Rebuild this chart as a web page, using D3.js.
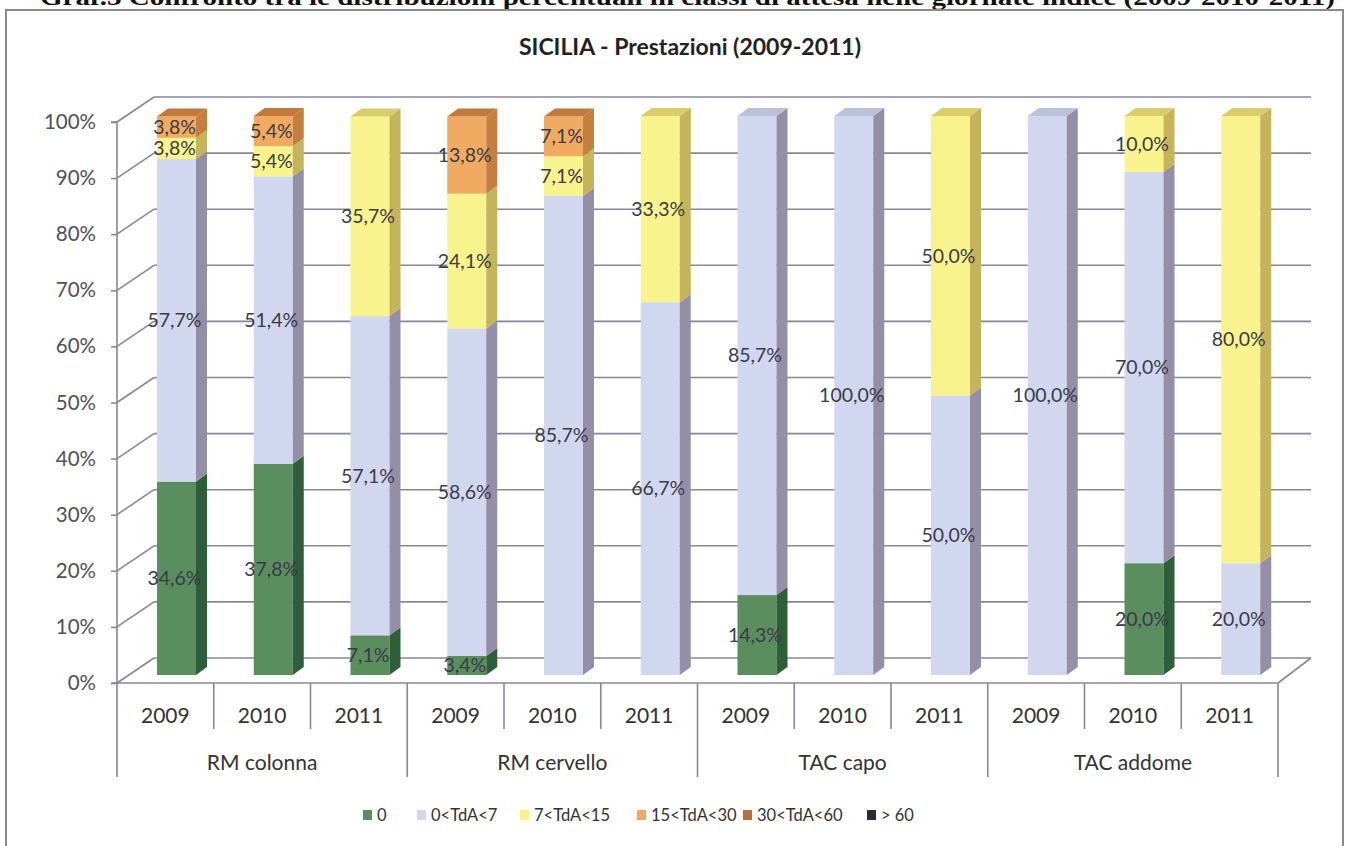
<!DOCTYPE html>
<html><head><meta charset="utf-8">
<script src="https://cdn.jsdelivr.net/npm/d3@7"></script>
<style>
html,body{margin:0;padding:0;background:#fff;}
svg{display:block;}
</style></head>
<body>
<svg id="chart" width="1347" height="846"></svg>
<script>
// ---- data ----
const groups = ["RM colonna", "RM cervello", "TAC capo", "TAC addome"];
const years = ["2009", "2010", "2011"];
const seriesNames = ["0", "0<TdA<7", "7<TdA<15", "15<TdA<30", "30<TdA<60", "> 60"];
const s_0      = [34.6, 37.8, 7.1,   3.4, 0, 0,      14.3, 0, 0,      0, 20.0, 0];
const s_0_7    = [57.7, 51.4, 57.1,  58.6, 85.7, 66.7, 85.7, 100.0, 50.0, 100.0, 70.0, 20.0];
const s_7_15   = [3.8, 5.4, 35.7,    24.1, 7.1, 33.3, 0, 0, 50.0,     0, 10.0, 80.0];
const s_15_30  = [3.8, 5.4, 0,       13.8, 7.1, 0,    0, 0, 0,        0, 0, 0];
const s_30_60  = [0, 0, 0,           0, 0, 0,         0, 0, 0,        0, 0, 0];
const s_60     = [0, 0, 0,           0, 0, 0,         0, 0, 0,        0, 0, 0];
const yTicks = [0, 10, 20, 30, 40, 50, 60, 70, 80, 90, 100];
const chartTitle = "SICILIA - Prestazioni (2009-2011)";
const docCaption = "Graf.3 Confronto tra le distribuzioni percentuali in classi di attesa nelle giornate indice (2009-2010-2011)";

// ---- build table ----
const seriesVals = [s_0, s_0_7, s_7_15, s_15_30, s_30_60, s_60];
const rows = [];
groups.forEach((g, gi) => years.forEach((y, yi) => {
  const i = gi * 3 + yi;
  const r = {key: g + "|" + y, group: g, year: y};
  seriesNames.forEach((s, si) => r[s] = seriesVals[si][i]);
  rows.push(r);
}));
const stacked = d3.stack().keys(seriesNames)(rows);

// ---- styles ----
const frontC = ["#5b8e5f", "#d1d7ee", "#f8f38c", "#f1aa62", "#b8713e", "#2b2b35"];
const sideC  = ["#2f5f38", "#948ea6", "#c4b45a", "#c47e3e", "#8a5028", "#15151c"];
const topC   = ["#3e7446", "#bcc1da", "#d8cd69", "#c27a3c", "#9a5c30", "#202028"];
const gridC = "#87879a";
const font = "Lato, 'Open Sans', sans-serif";

const svg = d3.select("#chart");

// caption from document (cut off at top, as in the source image)
svg.append("text").attr("x", 40).attr("y", 5)
  .attr("font-family", "'Liberation Serif', 'DejaVu Serif', serif")
  .attr("font-weight", "bold").attr("font-size", 23.5).attr("fill", "#111")
  .attr("textLength", 1295).attr("lengthAdjust", "spacingAndGlyphs")
  .text(docCaption);

// outer border
svg.append("rect").attr("x", 6).attr("y", 10).attr("width", 1337).attr("height", 845)
  .attr("fill", "none").attr("stroke", "#8a8a8a").attr("stroke-width", 2);

// title
svg.append("text").attr("x", 690).attr("y", 55).attr("text-anchor", "middle")
  .attr("font-family", font).attr("font-weight", "bold").attr("font-size", 23)
  .attr("fill", "#222").text(chartTitle);

// ---- scales ----
const x0 = 117, x1 = 1278;
const DX = 37, DY = -25;              // wall depth offset
const yFront = d3.scaleLinear().domain([0, 100]).range([683, 122]);
const yBack = v => yFront(v) + DY;
const xBand = d3.scaleBand().domain(rows.map(r => r.key)).range([x0, x1]).padding(0);
const yBar = d3.scaleLinear().domain([0, 100]).range([675, 116]);
const barOff = 40, barW = 39, bDX = 11, bDY = -8;

// ---- walls / gridlines ----
const gGrid = svg.append("g").attr("stroke", gridC).attr("stroke-width", 1.6).attr("fill", "none");
yTicks.forEach(t => {
  gGrid.append("line").attr("x1", x0 + DX).attr("x2", x1 + 33).attr("y1", yBack(t)).attr("y2", yBack(t));
  gGrid.append("line").attr("x1", x0).attr("y1", yFront(t)).attr("x2", x0 + DX).attr("y2", yBack(t));
});
gGrid.append("line").attr("x1", x0).attr("x2", x1).attr("y1", yFront(0)).attr("y2", yFront(0));
gGrid.append("line").attr("x1", x1).attr("y1", yFront(0)).attr("x2", x1 + 33).attr("y2", yBack(0));

// y axis
const yAxis = d3.axisLeft(yFront).tickValues(yTicks).tickSize(6).tickPadding(15).tickFormat(d => d + "%");
const gy = svg.append("g").attr("transform", `translate(${x0},0)`).call(yAxis);
gy.select(".domain").attr("stroke", gridC).attr("stroke-width", 1.6).attr("d", `M-6,${yFront(0)}H0V${yFront(100)}H-6`);
gy.selectAll(".tick line").attr("stroke", gridC).attr("stroke-width", 1.6);
gy.selectAll(".tick text").attr("font-family", font).attr("font-size", 20.5).attr("fill", "#50505a");

// ---- bars ----
const gBars = svg.append("g");
rows.forEach((r, i) => {
  const bx = xBand(r.key) + barOff;
  let topIdx = -1;
  stacked.forEach((s, si) => { if (s[i][1] - s[i][0] > 0) topIdx = si; });
  stacked.forEach((s, si) => {
    const v0 = s[i][0], v1 = s[i][1];
    if (v1 - v0 <= 0) return;
    const yb = yBar(v0), yt = yBar(v1);
    gBars.append("rect").attr("x", bx).attr("y", yt).attr("width", barW).attr("height", yb - yt)
      .attr("fill", frontC[si]);
    gBars.append("path").attr("fill", sideC[si])
      .attr("d", `M${bx + barW},${yb}L${bx + barW + bDX},${yb + bDY}L${bx + barW + bDX},${yt + bDY}L${bx + barW},${yt}Z`);
    if (si === topIdx) {
      gBars.append("path").attr("fill", topC[si])
        .attr("d", `M${bx},${yt}L${bx + bDX},${yt + bDY}L${bx + barW + bDX},${yt + bDY}L${bx + barW},${yt}Z`);
    }
  });
});

// ---- labels ----
const gLab = svg.append("g").attr("font-family", font).attr("font-size", 19.5).attr("fill", "#3a3a48")
  .attr("text-anchor", "middle");
rows.forEach((r, i) => {
  const cx = xBand(r.key) + barOff + barW / 2 - 2;
  stacked.forEach((s, si) => {
    const v0 = s[i][0], v1 = s[i][1];
    if (v1 - v0 <= 0) return;
    gLab.append("text").attr("x", cx).attr("y", yBar((v0 + v1) / 2)).attr("dy", "0.35em")
      .text((v1 - v0).toFixed(1).replace(".", ",") + "%");
  });
});

// ---- x axis (two levels) ----
const gx = svg.append("g").attr("stroke", gridC).attr("stroke-width", 1.6);
rows.forEach((r, i) => {
  const xs = xBand(r.key);
  gx.append("line").attr("x1", xs).attr("x2", xs).attr("y1", yFront(0)).attr("y2", i % 3 === 0 ? 777 : 729);
});
gx.append("line").attr("x1", x1).attr("x2", x1).attr("y1", yFront(0)).attr("y2", 777);
const gxt = svg.append("g").attr("font-family", font).attr("font-size", 21).attr("fill", "#333")
  .attr("text-anchor", "middle");
rows.forEach(r => {
  gxt.append("text").attr("x", xBand(r.key) + xBand.bandwidth() / 2).attr("y", 716).attr("dy", "0.35em").text(r.year);
});
groups.forEach((g, gi) => {
  const xa = xBand(g + "|" + years[0]), xb = xBand(g + "|" + years[2]) + xBand.bandwidth();
  gxt.append("text").attr("x", (xa + xb) / 2).attr("y", 763).attr("dy", "0.35em").text(g);
});

// ---- legend ----
const legX = [363, 417, 520, 637, 743, 867];
const gLeg = svg.append("g").attr("font-family", font).attr("font-size", 16.5).attr("fill", "#333");
seriesNames.forEach((s, si) => {
  gLeg.append("rect").attr("x", legX[si]).attr("y", 810).attr("width", 9).attr("height", 10).attr("fill", frontC[si]);
  gLeg.append("text").attr("x", legX[si] + 14).attr("y", 815).attr("dy", "0.35em").text(s);
});
</script>
</body></html>
